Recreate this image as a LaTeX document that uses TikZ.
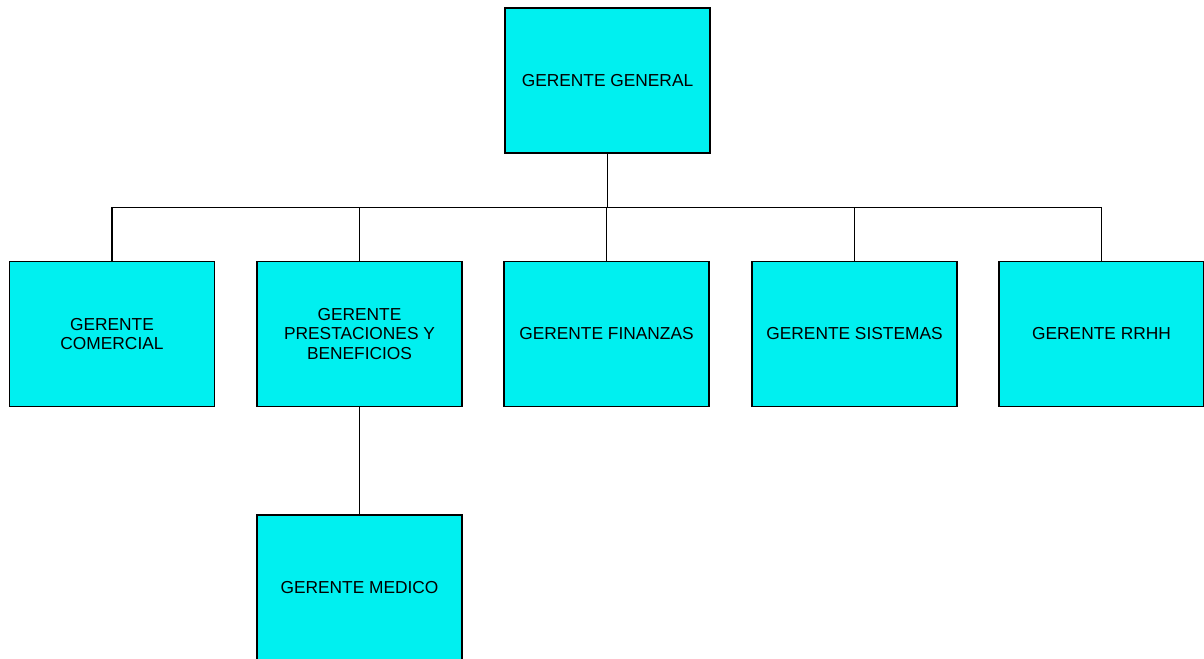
\documentclass[tikz,border=0pt]{standalone}
\usepackage{fontspec}
\setmainfont{Liberation Sans}
\definecolor{boxcyan}{RGB}{0,240,240}
\begin{document}
\begin{tikzpicture}[x=0.75pt,y=-0.75pt,
  orgbox/.style={draw=black,fill=boxcyan,line width=0.8pt,minimum width=153.75pt,minimum height=108.75pt,inner sep=0pt,outer sep=0pt,align=center,font=\fontsize{13pt}{14.3pt}\selectfont},
  link/.style={draw=black,line width=0.8pt}]
\useasboundingbox (0,0) rectangle (1204,658);
\node[orgbox] (gg) at (607.5,80.5) {GERENTE GENERAL};
\node[orgbox] (com) at (112,334) {GERENTE\\COMERCIAL};
\node[orgbox] (pre) at (359.5,334) {GERENTE\\PRESTACIONES Y\\BENEFICIOS};
\node[orgbox] (fin) at (606.5,334) {GERENTE FINANZAS};
\node[orgbox] (sis) at (854.5,334) {GERENTE SISTEMAS};
\node[orgbox] (rrh) at (1101.5,334) {GERENTE RRHH};
\node[orgbox] (med) at (359.5,587.5) {GERENTE MEDICO};
\coordinate (bus) at (607,207.5);
\draw[link] (gg.south) -- (gg.south |- bus);
\draw[link] (com.north) -- (com.north |- bus) -- (rrh.north |- bus) -- (rrh.north);
\draw[link] (pre.north) -- (pre.north |- bus);
\draw[link] (fin.north) -- (fin.north |- bus);
\draw[link] (sis.north) -- (sis.north |- bus);
\draw[link] (pre.south) -- (med.north);
\end{tikzpicture}
\end{document}
